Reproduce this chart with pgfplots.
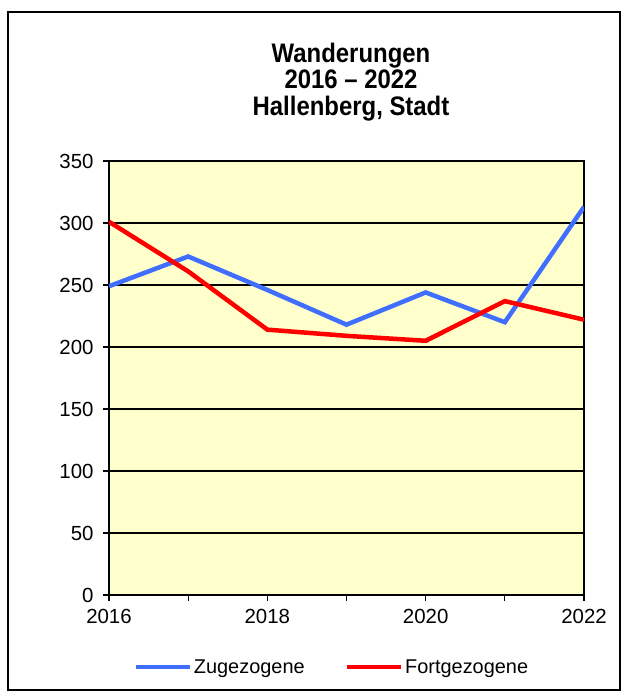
\documentclass[border=0pt]{standalone}
\usepackage{pgfplots}
\pgfplotsset{compat=1.18}
\usepackage{pgfplotstable}
\usepackage{fontspec}
\setmainfont{Liberation Sans}
\definecolor{bgyellow}{RGB}{255,255,204}
\definecolor{zublue}{RGB}{64,110,255}
\definecolor{fored}{RGB}{255,0,0}
\pgfplotstableread{
year zu fort
2016 249 301
2017 273 261
2018 246 214
2019 218 209
2020 244 205
2021 220 237
2022 313 222
}\data
\begin{document}
\begin{tikzpicture}[x=1bp,y=1bp]
\path[use as bounding box] (-109,-96) rectangle (516,595);
\draw[line width=1.8bp] (-101,-95) rectangle (511,583);
\begin{axis}[
  at={(0,0)}, anchor=south west,
  scale only axis, width=475bp, height=434bp,
  xmin=2016, xmax=2022, ymin=0, ymax=350,
  xtick={2016,2018,2020,2022},
  minor xtick={2017,2019,2021},
  ytick={0,50,...,350},
  xtick pos=left, ytick pos=left,
  tick align=outside,
  major tick length=6bp, minor tick length=6bp,
  every tick/.style={black, line width=1.2bp},
  axis line style={line width=1.8bp},
  axis background/.style={fill=bgyellow},
  ymajorgrids,
  major grid style={black, line width=1.4bp},
  /pgf/number format/assume math mode=true,
  /pgf/number format/set thousands separator={},
  tick label style={font=\fontsize{20.5}{24}\selectfont},
  xticklabel style={yshift=-5bp},
  yticklabel style={xshift=-6bp},
  legend columns=2,
  legend style={at={(0.469,-0.166)}, anchor=center, draw=none, fill=none,
    font=\fontsize{20}{24}\selectfont,
    inner sep=0pt,
    nodes={inner xsep=2bp},
    /tikz/every even column/.append style={column sep=38bp}},
  legend image code/.code={\draw[#1, line width=4.5bp] (0bp,0bp) -- (54bp,0bp);},
]
\addplot[zublue, line width=4.5bp] table[x=year, y=zu] {\data};
\addlegendentry{Zugezogene}
\addplot[fored, line width=4.5bp] table[x=year, y=fort] {\data};
\addlegendentry{Fortgezogene}
\end{axis}
\node[align=center, yscale=1.12, transform shape, font=\bfseries\fontsize{24}{23.5}\selectfont] at (242,513) {Wanderungen\\2016 -- 2022\\Hallenberg, Stadt};
\end{tikzpicture}
\end{document}
